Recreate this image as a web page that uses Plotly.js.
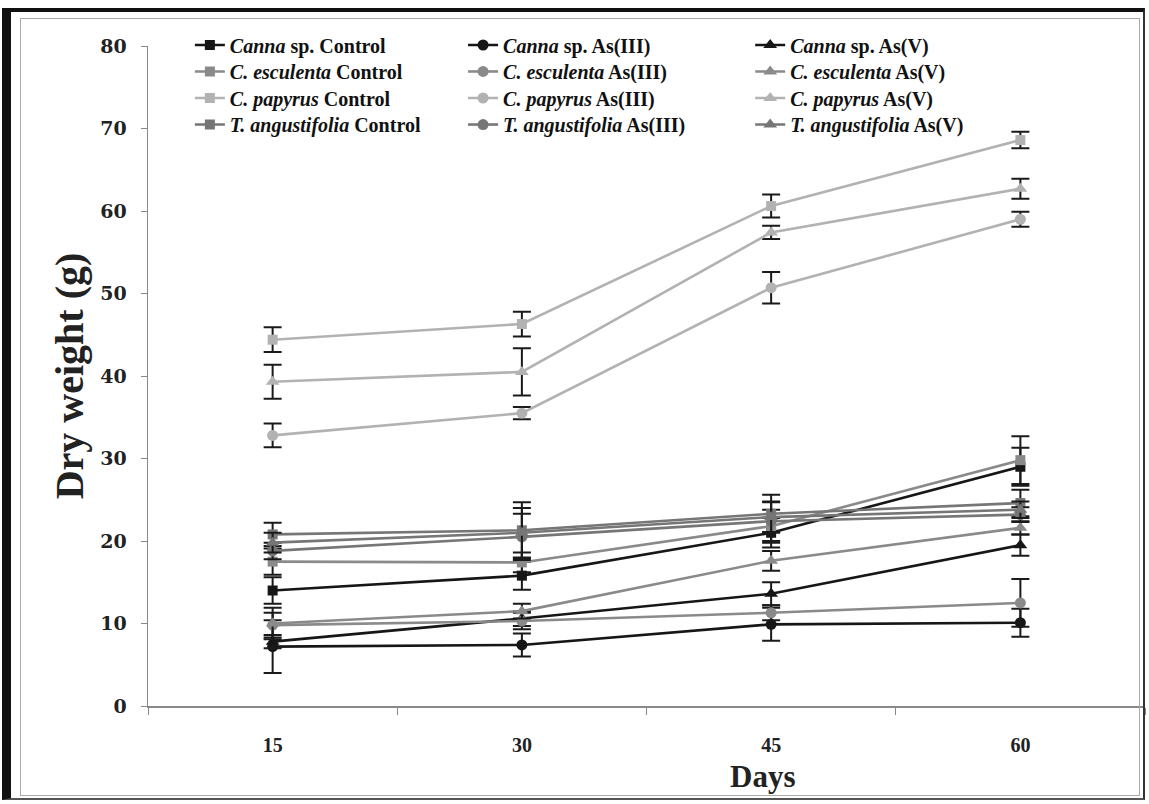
<!DOCTYPE html>
<html>
<head>
<meta charset="utf-8">
<script src="https://cdn.plot.ly/plotly-3.0.1.min.js"></script>
<style>
  html, body { margin: 0; padding: 0; background: #fff; }
  #wrap { position: relative; width: 1149px; height: 804px; overflow: hidden; }
  #chart { position: absolute; left: 0; top: 0; width: 1149px; height: 804px; }
  .frame-outer { position: absolute; left: 2px; top: 8px; width: 1143px; height: 792px;
    border-left: 9px solid #111; border-top: 4px solid #111; border-right: 2px solid #333; border-bottom: 2px solid #555;
    box-sizing: border-box; pointer-events: none; }
  .frame-inner { position: absolute; left: 20px; top: 18px; width: 1120px; height: 778px;
    border: 1px solid #aaa; box-sizing: border-box; pointer-events: none; }
</style>
</head>
<body>
<div id="wrap">
  <div id="chart"></div>
  <div class="frame-outer"></div>
  <div class="frame-inner"></div>
</div>
<script>
// Categories
const days = ['15', '30', '45', '60'];

// Series values (dry weight, g)
const cannaControl   = [14.0, 15.8, 21.0, 29.0];
const cannaAs3       = [7.2, 7.4, 9.9, 10.1];
const cannaAs5       = [7.8, 10.6, 13.6, 19.5];
const escControl     = [17.5, 17.4, 21.8, 29.8];
const escAs3         = [9.8, 10.3, 11.3, 12.5];
const escAs5         = [10.0, 11.5, 17.6, 21.6];
const papControl     = [44.4, 46.3, 60.6, 68.6];
const papAs3         = [32.8, 35.5, 50.7, 59.0];
const papAs5         = [39.3, 40.5, 57.4, 62.7];
const tangControl    = [20.8, 21.3, 23.3, 24.6];
const tangAs3        = [18.8, 20.5, 22.4, 23.2];
const tangAs5        = [19.8, 21.0, 22.9, 23.8];

// Error values (±)
const cannaControlErr = [1.6, 1.7, 1.8, 2.3];
const cannaAs3Err     = [3.2, 1.4, 2.0, 1.7];
const cannaAs5Err     = [0.8, 0.9, 1.4, 1.3];
const escControlErr   = [1.6, 1.2, 2.0, 2.9];
const escAs3Err       = [1.5, 1.0, 0.9, 2.9];
const escAs5Err       = [1.9, 0.9, 1.2, 0.8];
const papControlErr   = [1.5, 1.5, 1.4, 1.0];
const papAs3Err       = [1.45, 0.75, 1.9, 0.9];
const papAs5Err       = [2.05, 2.85, 0.8, 1.2];
const tangControlErr  = [1.4, 3.4, 2.3, 1.6];
const tangAs3Err      = [1.0, 2.8, 2.4, 0.9];
const tangAs5Err      = [1.2, 3.0, 1.8, 1.0];

// Series names (legend)
const names = [
  '<i>Canna</i> sp. Control', '<i>Canna</i> sp. As(III)', '<i>Canna</i> sp. As(V)',
  '<i>C. esculenta</i> Control', '<i>C. esculenta</i> As(III)', '<i>C. esculenta</i> As(V)',
  '<i>C. papyrus</i> Control', '<i>C. papyrus</i> As(III)', '<i>C. papyrus</i> As(V)',
  '<i>T. angustifolia</i> Control', '<i>T. angustifolia</i> As(III)', '<i>T. angustifolia</i> As(V)'
];
const values = [cannaControl, cannaAs3, cannaAs5, escControl, escAs3, escAs5,
                papControl, papAs3, papAs5, tangControl, tangAs3, tangAs5];
const errors = [cannaControlErr, cannaAs3Err, cannaAs5Err, escControlErr, escAs3Err, escAs5Err,
                papControlErr, papAs3Err, papAs5Err, tangControlErr, tangAs3Err, tangAs5Err];

const speciesColors = ['#161616', '#8a8a8a', '#b2b2b2', '#767676'];
const symbols = ['square', 'circle', 'triangle-up'];
const sizes = [10, 11, 12];

const serif = 'Liberation Serif, Times New Roman, serif';
const legendColX = [0.042, 0.316, 0.604];
const legendRowY = [1.0015, 0.9614, 0.9212, 0.881];

const layout = {
  width: 1149, height: 804,
  paper_bgcolor: '#fff', plot_bgcolor: '#fff',
  margin: { l: 148, r: 4, t: 46, b: 98 },
  showlegend: true,
  xaxis: {
    type: 'category', range: [-0.5, 3.5],
    showline: true, linecolor: '#888', linewidth: 1.5,
    ticks: 'outside', tickson: 'boundaries', ticklen: 7, tickcolor: '#888', tickwidth: 1,
    showgrid: false, zeroline: false,
    tickfont: { family: serif, size: 20, color: '#222', weight: 'bold' },
    ticklabelstandoff: 20
  },
  yaxis: {
    range: [0, 80], dtick: 10,
    showline: true, linecolor: '#888', linewidth: 1.5,
    ticks: 'outside', ticklen: 6, tickcolor: '#888', tickwidth: 1,
    showgrid: false, zeroline: false,
    tickfont: { family: 'DejaVu Serif, serif', size: 19, color: '#222', weight: 'bold' },
    ticklabelstandoff: 10,
    title: { text: '<b>Dry weight (g)</b>', font: { family: serif, size: 40, color: '#222' }, standoff: 4 }
  },
  annotations: [{
    text: '<b>Days</b>', xref: 'paper', yref: 'paper', x: 0.616, y: -0.107,
    xanchor: 'center', yanchor: 'middle', showarrow: false,
    font: { family: serif, size: 31, color: '#222' }
  }]
};

const traces = values.map((v, i) => {
  const sp = Math.floor(i / 3), tr = i % 3;
  const legId = i === 0 ? 'legend' : 'legend' + (i + 1);
  layout[legId] = {
    orientation: 'v', x: legendColX[tr], xanchor: 'left', y: legendRowY[sp], yanchor: 'middle',
    font: { family: serif, size: 20, color: '#111', weight: 'bold' },
    bgcolor: 'rgba(255,255,255,0)', borderwidth: 0
  };
  return {
    type: 'scatter', mode: 'lines+markers',
    name: names[i], legend: legId,
    x: days, y: v,
    line: { color: speciesColors[sp], width: 2.6 },
    marker: { color: speciesColors[sp], symbol: symbols[tr], size: sizes[tr] },
    error_y: { type: 'data', array: errors[i], visible: true, color: '#1a1a1a', thickness: 2, width: 9 }
  };
});

Plotly.newPlot('chart', traces, layout, { displayModeBar: false, staticPlot: true });
</script>
</body>
</html>
